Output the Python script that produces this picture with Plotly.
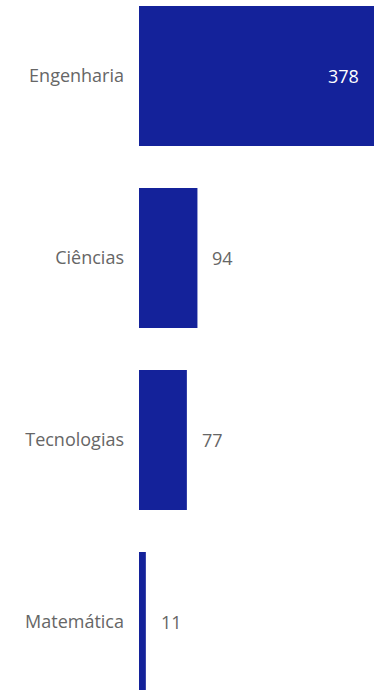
import plotly.graph_objects as go

# data
categories = ['Engenharia', 'Ciências', 'Tecnologias', 'Matemática']
values = [378, 94, 77, 11]
inside_label = [True, False, False, False]

bar_color = '#14229a'
label_gray = '#666666'
font_family = 'Open Sans, Noto Sans, sans-serif'

fig = go.Figure()
fig.add_trace(go.Bar(
    x=values,
    y=categories,
    orientation='h',
    marker=dict(color=bar_color, line=dict(width=0)),
    hoverinfo='x+y',
))

# value labels, inside the long bar and outside the short ones
for cat, val, inside in zip(categories, values, inside_label):
    fig.add_annotation(
        x=val, y=cat, text=str(val), showarrow=False,
        xanchor='right' if inside else 'left',
        xshift=-13 if inside else 13,
        font=dict(family=font_family, size=18, color='white' if inside else label_gray),
    )

fig.update_layout(
    width=376, height=690,
    margin=dict(l=139, r=2, t=0, b=0),
    paper_bgcolor='white', plot_bgcolor='white',
    bargap=0.231,
    showlegend=False,
    font=dict(family=font_family, size=18, color=label_gray),
)
fig.update_xaxes(range=[0, 378], visible=False, fixedrange=True)
# last bar runs off the bottom edge, like the reference
fig.update_yaxes(
    type='category',
    range=[3.374, -0.418],
    showgrid=False, zeroline=False, showline=False,
    ticks='', ticklabelstandoff=14,
    tickfont=dict(family=font_family, size=18, color=label_gray),
    fixedrange=True,
)

# drop the default page margin so the figure fills the window
fig.write_html(
    "out.html",
    config={'displayModeBar': False},
    post_script="document.body.style.margin='0';document.body.style.overflow='hidden';",
)
